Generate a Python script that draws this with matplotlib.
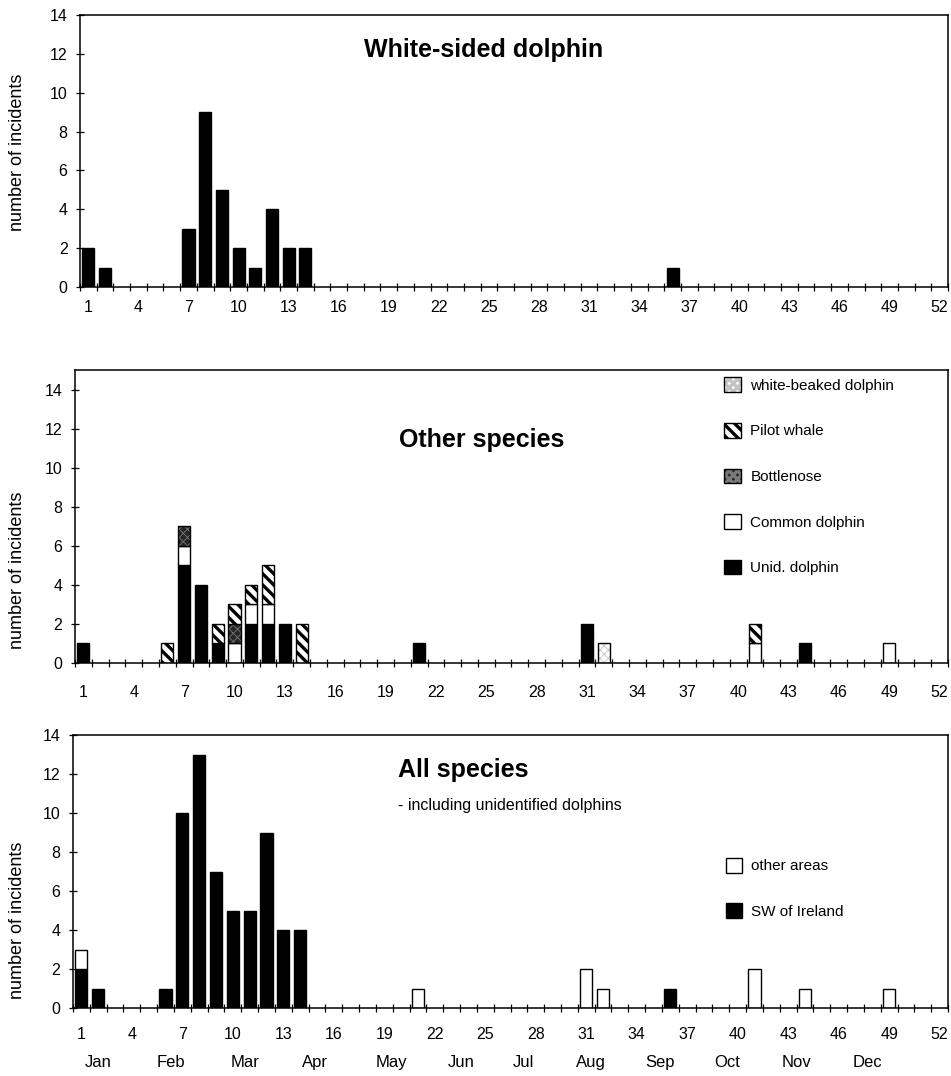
import numpy as np
import matplotlib
matplotlib.use("Agg")
import matplotlib.pyplot as plt
from matplotlib.patches import Patch

plt.rcParams['font.family'] = ['Liberation Sans', 'DejaVu Sans']
plt.rcParams['hatch.linewidth'] = 2.4

# ---------------- data ----------------
n_weeks = 52
tick_weeks = [1, 4, 7, 10, 13, 16, 19, 22, 25, 28, 31, 34, 37, 40, 43, 46, 49, 52]
months = ['Jan', 'Feb', 'Mar', 'Apr', 'May', 'Jun', 'Jul', 'Aug', 'Sep', 'Oct', 'Nov', 'Dec']
month_pos = [2.0, 6.3, 10.7, 14.9, 19.4, 23.6, 27.3, 31.3, 35.4, 39.4, 43.5, 47.7]

# White-sided dolphin
ws_weeks = [1, 2, 7, 8, 9, 10, 11, 12, 13, 14, 36]
ws_counts = [2, 1, 3, 9, 5, 2, 1, 4, 2, 2, 1]

# Other species (stack order bottom -> top)
unid_weeks = [1, 7, 8, 9, 11, 12, 13, 21, 31, 44]
unid_counts = [1, 5, 4, 1, 2, 2, 2, 1, 2, 1]
common_weeks = [7, 10, 11, 12, 41, 49]
common_counts = [1, 1, 1, 1, 1, 1]
bottle_weeks = [7, 10]
bottle_counts = [1, 1]
pilot_weeks = [6, 9, 10, 11, 12, 14, 41]
pilot_counts = [1, 1, 1, 1, 2, 2, 1]
wbeak_weeks = [32]
wbeak_counts = [1]

# All species
sw_weeks = [1, 2, 6, 7, 8, 9, 10, 11, 12, 13, 14, 36]
sw_counts = [2, 1, 1, 10, 13, 7, 5, 5, 9, 4, 4, 1]
oth_weeks = [1, 21, 31, 32, 41, 44, 49]
oth_counts = [1, 1, 2, 1, 2, 1, 1]


def full(wk, ct):
    a = np.zeros(n_weeks)
    for w, c in zip(wk, ct):
        a[w - 1] = c
    return a


weeks = np.arange(1, n_weeks + 1)
BW = 0.72

fig = plt.figure(figsize=(9.51, 10.76), dpi=100)
ax1 = fig.add_axes([80/951, 1-287/1076, 868/951, 272/1076])
ax2 = fig.add_axes([75/951, 1-663/1076, 873/951, 293/1076])
ax3 = fig.add_axes([73/951, 1-1008/1076, 875/951, 273/1076])


def style(ax, ymax, padx):
    ax.set_xlim(0.5, n_weeks + 0.5)
    ax.set_ylim(0, ymax)
    ax.set_yticks(range(0, 15, 2))
    ax.set_xticks(tick_weeks)
    ax.set_xticks(np.arange(0.5, n_weeks + 1, 1), minor=True)
    ax.tick_params(axis='x', which='major', length=0, pad=padx, labelsize=11.5)
    ax.tick_params(axis='x', which='minor', length=6, direction='inout', width=0.9)
    ax.tick_params(axis='y', which='major', length=6, direction='inout', width=0.9,
                   labelsize=11.5, pad=6)
    for s in ax.spines.values():
        s.set_linewidth(1.1)


def draw_stack(ax, layers):
    bottom = np.zeros(n_weeks)
    for arr, face, hatch, hcol, hlw in layers:
        m = arr > 0
        if hatch:
            with plt.rc_context({'hatch.linewidth': hlw}):
                ax.bar(weeks[m], arr[m], BW, bottom=bottom[m], facecolor=face,
                       edgecolor=hcol, hatch=hatch, linewidth=0)
            ax.bar(weeks[m], arr[m], BW, bottom=bottom[m], fill=False,
                   edgecolor='black', linewidth=1.0)
        else:
            ax.bar(weeks[m], arr[m], BW, bottom=bottom[m], facecolor=face,
                   edgecolor='black', linewidth=1.0)
        bottom = bottom + arr


BN_FACE, BN_HATCH, BN_HC = '#262626', 'xxxx', '#7a7a7a'
WB_FACE, WB_HATCH, WB_HC = 'white', 'xxxx', '#c4c4c4'

# ---- panel 1 ----
style(ax1, 14, 9)
draw_stack(ax1, [(full(ws_weeks, ws_counts), 'black', None, None, None)])
ax1.text(17.5, 12.2, 'White-sided dolphin', fontsize=18, fontweight='bold', va='center')

# ---- panel 2 ----
style(ax2, 15, 16)
layers2 = [
    (full(unid_weeks, unid_counts), 'black', None, None, None),
    (full(common_weeks, common_counts), 'white', None, None, None),
    (full(bottle_weeks, bottle_counts), BN_FACE, BN_HATCH, BN_HC, 0.6),
    (full(pilot_weeks, pilot_counts), 'white', '\\\\\\', 'black', 2.4),
    (full(wbeak_weeks, wbeak_counts), WB_FACE, WB_HATCH, WB_HC, 0.6),
]
draw_stack(ax2, layers2)
ax2.text(19.8, 11.4, 'Other species', fontsize=18, fontweight='bold', va='center')

outline = Patch(fill=False, edgecolor='black', linewidth=1.0)
with plt.rc_context({'hatch.linewidth': 0.6}):
    h_wb = (Patch(facecolor=WB_FACE, edgecolor=WB_HC, hatch=WB_HATCH, linewidth=0), outline)
    h_bn = (Patch(facecolor=BN_FACE, edgecolor=BN_HC, hatch=BN_HATCH, linewidth=0), outline)
h_pw = (Patch(facecolor='white', edgecolor='black', hatch='\\\\\\', linewidth=0), outline)
h_cd = Patch(facecolor='white', edgecolor='black', linewidth=1.0)
h_ud = Patch(facecolor='black', edgecolor='black', linewidth=1.0)
ax2.legend([h_wb, h_pw, h_bn, h_cd, h_ud],
           ['white-beaked dolphin', 'Pilot whale', 'Bottlenose', 'Common dolphin', 'Unid. dolphin'],
           loc='upper left', bbox_to_anchor=(0.728, 1.022), frameon=False, fontsize=11,
           handlelength=1.1, handleheight=1.1, labelspacing=1.97, handletextpad=0.6)

# ---- panel 3 ----
style(ax3, 14, 14)
draw_stack(ax3, [(full(sw_weeks, sw_counts), 'black', None, None, None),
                 (full(oth_weeks, oth_counts), 'white', None, None, None)])
ax3.text(19.8, 12.2, 'All species', fontsize=18, fontweight='bold', va='center')
ax3.text(19.8, 10.4, '- including unidentified dolphins', fontsize=11.5, va='center')
h_oa = Patch(facecolor='white', edgecolor='black', linewidth=1.0)
h_sw = Patch(facecolor='black', edgecolor='black', linewidth=1.0)
ax3.legend([h_oa, h_sw], ['other areas', 'SW of Ireland'],
           loc='upper left', bbox_to_anchor=(0.73, 0.60), frameon=False, fontsize=11,
           handlelength=1.1, handleheight=1.1, labelspacing=1.95, handletextpad=0.6)
for lab, pos in zip(months, month_pos):
    ax3.text(pos, -0.2, lab, transform=ax3.get_xaxis_transform(),
             ha='center', va='center', fontsize=12)

# y labels
for yc in [152, 570, 920]:
    fig.text(18/951, 1 - yc/1076, 'number of incidents', rotation=90,
             ha='center', va='center', fontsize=13)

fig.savefig('out.png', dpi=100)
